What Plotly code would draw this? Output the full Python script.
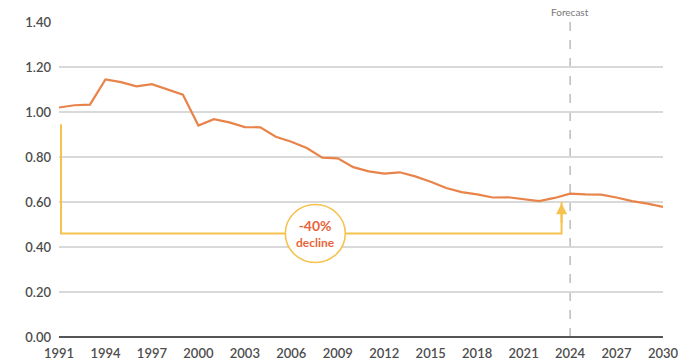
import plotly.graph_objects as go

years = list(range(1991, 2031))
values = [1.02, 1.03, 1.033, 1.145, 1.133, 1.114, 1.124, 1.10, 1.077, 0.94,
          0.968, 0.954, 0.933, 0.932, 0.89, 0.868, 0.84, 0.797, 0.794, 0.755,
          0.736, 0.726, 0.732, 0.714, 0.69, 0.662, 0.644, 0.634, 0.62, 0.621,
          0.612, 0.604, 0.618, 0.637, 0.634, 0.633, 0.62, 0.604, 0.593, 0.578]
x_ticks = list(range(1991, 2031, 3))
y_ticks = [0.0, 0.2, 0.4, 0.6, 0.8, 1.0, 1.2, 1.4]
y_tick_labels = ["0.00", "0.20", "0.40", "0.60", "0.80", "1.00", "1.20", "1.40"]
forecast_year = 2024
bracket_x = [1991.13, 1991.13, 2023.45, 2023.45]
bracket_y = [0.945, 0.46, 0.46, 0.60]

ORANGE = "#E8834A"
YELLOW = "#F6C24E"
TXT = "#4d4d4d"
FONT = "Lato"

fig = go.Figure()
fig.add_trace(go.Scatter(x=bracket_x, y=bracket_y, mode="lines",
                         line=dict(color=YELLOW, width=2), hoverinfo="skip",
                         showlegend=False))
fig.add_trace(go.Scatter(x=years, y=values, mode="lines",
                         line=dict(color=ORANGE, width=2.2), showlegend=False))

# arrow head
fig.add_annotation(x=bracket_x[-1], y=0.595, ax=bracket_x[-1], ay=0.50,
                   xref="x", yref="y", axref="x", ayref="y", text="",
                   showarrow=True, arrowhead=2, arrowsize=1.1, arrowwidth=2,
                   arrowcolor=YELLOW)

# forecast dashed line
fig.add_shape(type="line", x0=forecast_year, x1=forecast_year, y0=0, y1=1.4,
              xref="x", yref="y", line=dict(color="#9a9a9a", width=1, dash="dash"),
              layer="below")
fig.add_annotation(x=forecast_year, y=1.4, xref="x", yref="y", yanchor="bottom",
                   yshift=2, text="Forecast", showarrow=False,
                   font=dict(family=FONT, size=10, color="#777777"))

# circle
cx, cy = 2007.55, 0.46
fig.add_shape(type="circle", xref="x", yref="y", xsizemode="pixel", ysizemode="pixel",
              xanchor=cx, yanchor=cy, x0=-30, x1=30, y0=-29, y1=29,
              fillcolor="white", line=dict(color=YELLOW, width=1.6), layer="above")
fig.add_annotation(x=cx, y=cy, xref="x", yref="y", showarrow=False,
                   text="<b><span style='font-size:14px'>-40%</span></b><br><b>decline</b>",
                   align="center",
                   font=dict(family=FONT, size=12, color="#E8653A"))

fig.update_layout(
    width=687, height=364,
    margin=dict(l=59, r=24, t=22, b=27),
    paper_bgcolor="white", plot_bgcolor="white",
    font=dict(family=FONT, color=TXT),
    xaxis=dict(range=[1991, 2030], tickvals=x_ticks, showgrid=False,
               zeroline=False, showline=False, ticks="", automargin=False,
               tickfont=dict(family=FONT, size=13, color=TXT, weight=600),
               ticklabelstandoff=7),
    yaxis=dict(range=[0, 1.4], tickvals=y_ticks, ticktext=y_tick_labels,
               showgrid=True, gridcolor="#d9d9d9", gridwidth=1.5,
               zeroline=True, zerolinecolor="#555555", zerolinewidth=1.5,
               showline=False, ticks="", automargin=False,
               tickfont=dict(family=FONT, size=13, color=TXT, weight=600),
               ticklabelstandoff=7),
)

fig.write_html("out.html")
